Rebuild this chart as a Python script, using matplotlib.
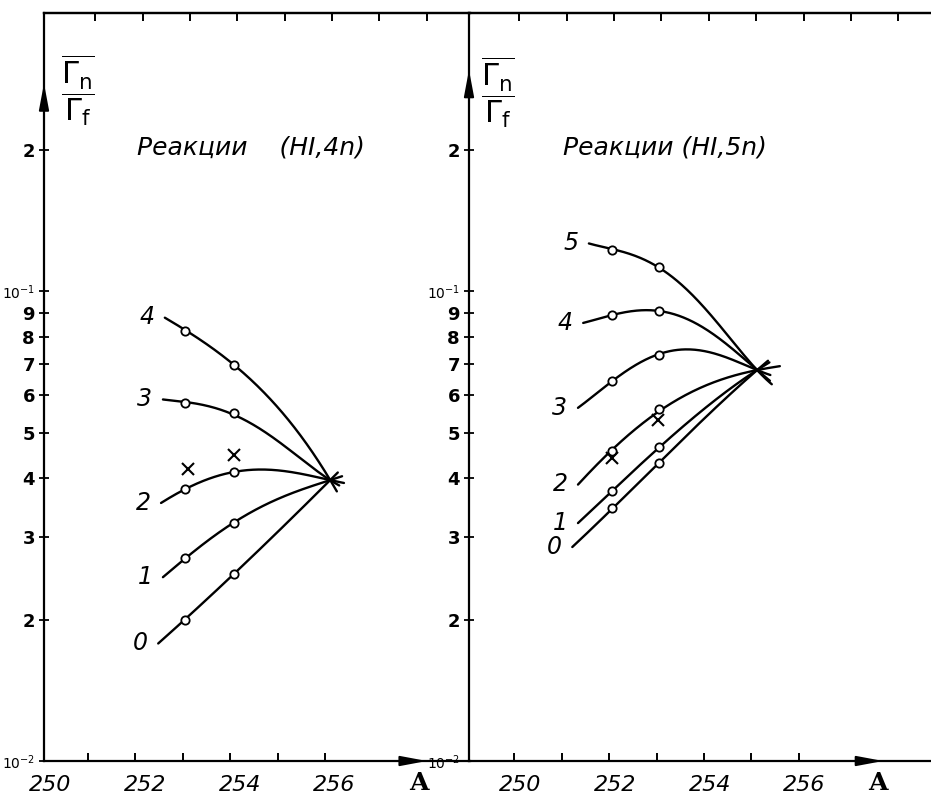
import numpy as np
import matplotlib
matplotlib.use("Agg")
import matplotlib.pyplot as plt

# ---------------- data ----------------
# Left panel: reactions (HI,4n); measured points at A = 253, 254
L_mark_A = [253.05, 254.07]
L0_mark = [0.0200, 0.0250]
L1_mark = [0.0270, 0.0321]
L2_mark = [0.0379, 0.0412]
L3_mark = [0.0578, 0.0550]
L4_mark = [0.0822, 0.0697]
L_cross_A = [253.11, 254.08]
L_cross_V = [0.0419, 0.0448]
L_conv_A = 256.11          # common crossing point of the left curves

# curve nodes (left panel)
L0_A = [252.48, 253.05, 254.07, 256.11, 256.27]
L0_V = [0.0178, 0.0200, 0.0250, 0.0396, 0.0412]
L1_A = [252.58, 253.05, 254.07, 255.10, 256.11, 256.36]
L1_V = [0.0246, 0.0270, 0.0321, 0.0365, 0.0396, 0.0404]
L2_A = [252.54, 253.05, 254.07, 254.84, 255.47, 256.11, 256.40]
L2_V = [0.0354, 0.0379, 0.0412, 0.0416, 0.0410, 0.0396, 0.0391]
L3_A = [252.58, 253.05, 254.07, 254.84, 255.47, 256.11, 256.30]
L3_V = [0.0589, 0.0578, 0.0550, 0.0489, 0.0442, 0.0396, 0.0384]
L4_A = [252.62, 253.05, 254.07, 256.11, 256.25]
L4_V = [0.0880, 0.0822, 0.0700, 0.0396, 0.0377]

# Right panel: reactions (HI,5n); measured points at A = 252, 253
R_mark_A = [252.06, 253.06]
R0_mark = [0.0345, 0.0431]
R1_mark = [0.0375, 0.0466]
R2_mark = [0.0457, 0.0561]
R3_mark = [0.0644, 0.0731]
R4_mark = [0.0890, 0.0905]
R5_mark = [0.1222, 0.1125]
R_cross_A = [252.06, 253.03]
R_cross_V = [0.0441, 0.0532]
R_conv_A = 255.12          # common crossing point of the right curves

R0_A = [251.22, 252.06, 253.06, 255.12, 255.35]
R0_V = [0.0285, 0.0345, 0.0431, 0.0679, 0.0708]
R1_A = [251.34, 252.06, 253.06, 255.12, 255.38]
R1_V = [0.0321, 0.0375, 0.0466, 0.0679, 0.0706]
R2_A = [251.34, 252.06, 253.06, 254.06, 255.12, 255.60]
R2_V = [0.0388, 0.0457, 0.0561, 0.0625, 0.0679, 0.0690]
R3_A = [251.34, 252.06, 253.06, 253.70, 254.38, 255.12, 255.40]
R3_V = [0.0564, 0.0644, 0.0731, 0.0757, 0.0724, 0.0679, 0.0662]
R4_A = [251.45, 252.06, 253.06, 253.98, 255.12, 255.39]
R4_V = [0.0855, 0.0890, 0.0905, 0.0838, 0.0679, 0.0645]
R5_A = [251.57, 252.10, 253.06, 253.98, 255.12, 255.43]
R5_V = [0.1264, 0.1222, 0.1125, 0.0924, 0.0679, 0.0632]

curve_names_L = ["0", "1", "2", "3", "4"]
curve_names_R = ["0", "1", "2", "3", "4", "5"]

y_ticks = [0.01, 0.02, 0.03, 0.04, 0.05, 0.06, 0.07, 0.08, 0.09, 0.1, 0.2]
y_ticklabels = [r"$10^{-2}$", "2", "3", "4", "5", "6", "7", "8", "9", r"$10^{-1}$", "2"]
x_labels = [250, 252, 254, 256]

# ---------------- helpers ----------------
def draw_curve(ax, A, V, conv_A):
    A = np.asarray(A, float)
    ly = np.log10(np.asarray(V, float))
    w = np.where(np.isclose(A, conv_A), 6.0, 1.0)
    deg = min(4, len(A) - 2)
    coef = np.polyfit(A, ly, deg, w=w)
    xn = np.linspace(A[0], A[-1], 200)
    ax.plot(xn, 10**np.polyval(coef, xn), color="black", lw=1.7,
            solid_capstyle="round", zorder=2)

W, H = 931, 801
def rect(x0, y0, x1, y1):
    return [x0 / W, 1 - y1 / H, (x1 - x0) / W, (y1 - y0) / H]

fig = plt.figure(figsize=(9.31, 8.01), dpi=100)
fig.patch.set_facecolor("white")
plt.rcParams["mathtext.fontset"] = "dejavusans"

axL = fig.add_axes(rect(44, 13, 470, 761))
axR = fig.add_axes(rect(469, 13, 931, 761))
axR.patch.set_alpha(0)

ylim = (0.01, 0.3905)

def setup(ax, xlim, bottom_ticks, top_ticks, lab_off, A_pos, arrow_x, yarrow):
    ax.set_yscale("log")
    ax.set_xlim(*xlim)
    ax.set_ylim(*ylim)
    for s in ["left", "bottom", "top"]:
        ax.spines[s].set_linewidth(1.6)
    ax.spines["right"].set_visible(False)
    ax.set_xticks(bottom_ticks)
    ax.set_xticklabels([])
    ax.tick_params(axis="x", direction="in", length=6, width=1.4, bottom=True, top=False)
    ax.set_yticks(y_ticks)
    ax.set_yticks([], minor=True)
    ax.set_yticklabels(y_ticklabels)
    ax.tick_params(axis="y", direction="inout", length=7, width=1.3, pad=3,
                   labelsize=13)
    for t in ax.get_yticklabels():
        t.set_fontweight("bold")
        if "10" in t.get_text():
            t.set_fontsize(10)
            t.set_fontstyle("italic")
    sec = ax.secondary_xaxis("top")
    sec.set_xticks(top_ticks)
    sec.set_xticklabels([])
    sec.tick_params(direction="in", length=6, width=1.4)
    sec.spines["top"].set_linewidth(1.6)
    for v in x_labels:
        ax.annotate(str(v), xy=(v + lab_off, 0), xycoords=("data", "axes fraction"),
                    xytext=(0, -17), textcoords="offset points", ha="center", va="center",
                    fontsize=16, fontstyle="italic", annotation_clip=False)
    ax.annotate("A", xy=(A_pos, 0), xycoords=("data", "axes fraction"),
                xytext=(0, -16), textcoords="offset points", ha="center", va="center",
                fontsize=18, family="DejaVu Serif", fontweight="bold",
                annotation_clip=False)
    ax.annotate("", xy=(arrow_x[1], 0), xytext=(arrow_x[0], 0),
                xycoords=("data", "axes fraction"),
                arrowprops=dict(arrowstyle="-|>,head_length=1.6,head_width=0.3",
                                color="black", lw=1.4, shrinkA=0, shrinkB=0),
                annotation_clip=False)
    ax.annotate("", xy=(0, yarrow[1]), xytext=(0, yarrow[0]), xycoords="axes fraction",
                arrowprops=dict(arrowstyle="-|>,head_length=1.6,head_width=0.3",
                                color="black", lw=1.4, shrinkA=0, shrinkB=0),
                annotation_clip=False)

setup(axL, (250.07, 259.06), np.arange(251, 257), np.arange(251, 259) + 0.15,
      0.2, 257.98, (257.5, 258.15), (0.86, 0.906))
setup(axR, (249.04, 258.79), np.arange(250, 257), np.arange(250, 259) + 0.1,
      0.12, 257.67, (257.0, 257.78), (0.87, 0.924))

# curves and markers
L_curves = [(L0_A, L0_V, L0_mark), (L1_A, L1_V, L1_mark), (L2_A, L2_V, L2_mark),
            (L3_A, L3_V, L3_mark), (L4_A, L4_V, L4_mark)]
R_curves = [(R0_A, R0_V, R0_mark), (R1_A, R1_V, R1_mark), (R2_A, R2_V, R2_mark),
            (R3_A, R3_V, R3_mark), (R4_A, R4_V, R4_mark), (R5_A, R5_V, R5_mark)]

for ax, curves, mA, names, cA in [(axL, L_curves, L_mark_A, curve_names_L, L_conv_A),
                                  (axR, R_curves, R_mark_A, curve_names_R, R_conv_A)]:
    for (A, V, mk), nm in zip(curves, names):
        draw_curve(ax, A, V, cA)
        ax.plot(mA, mk, ls="none", marker="o", ms=6, mfc="white", mec="black",
                mew=1.3, zorder=3)
        ax.annotate(nm, xy=(A[0], V[0]), xytext=(-13, 0), textcoords="offset points",
                    ha="center", va="center", fontsize=17, fontstyle="italic")

axL.plot(L_cross_A, L_cross_V, ls="none", marker="x", ms=8, mew=1.5, color="black", zorder=4)
axR.plot(R_cross_A, R_cross_V, ls="none", marker="x", ms=8, mew=1.5, color="black", zorder=4)

# titles
fig.text(137 / W, 1 - 147 / H, "Реакции    (HI,4n)", fontsize=18, fontstyle="italic",
         ha="left", va="center")
fig.text(563 / W, 1 - 147 / H, "Реакции (HI,5n)", fontsize=18, fontstyle="italic",
         ha="left", va="center")

# y axis labels
frac = r"$\dfrac{\overline{\Gamma_\mathrm{n}}}{\Gamma_\mathrm{f}}$"
fig.text(78 / W, 1 - 90 / H, frac, fontsize=22, ha="center", va="center")
fig.text(498 / W, 1 - 92 / H, frac, fontsize=22, ha="center", va="center")

fig.savefig("out.png", dpi=100, facecolor="white")
